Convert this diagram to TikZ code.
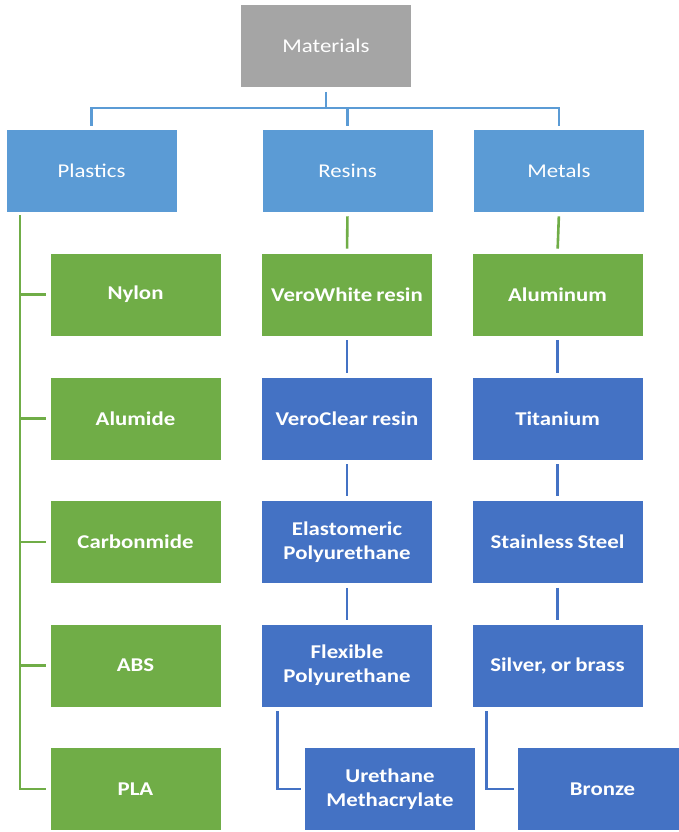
\documentclass[tikz,border=0pt]{standalone}
\usepackage{fontspec}
\setmainfont{Carlito}[FakeStretch=1.17,WordSpace=0.8]
\usetikzlibrary{calc}
\definecolor{greyfill}{HTML}{A5A5A5}
\definecolor{lightblue}{HTML}{5B9BD5}
\definecolor{leafgreen}{HTML}{70AD47}
\definecolor{darkblue}{HTML}{4472C4}
\begin{document}
\begin{tikzpicture}[x=1pt,y=-1pt,
  box/.style={rectangle, draw=white, line width=0.6pt, text=white, align=center,
    inner sep=2pt, minimum width=171pt, minimum height=83pt,
    font=\fontsize{19.5}{24}\selectfont},
  topbox/.style={box, fill=lightblue},
  rootbox/.style={box, fill=greyfill},
  greenbox/.style={box, fill=leafgreen, font=\fontsize{19.5}{24}\selectfont\bfseries},
  bluebox/.style={box, fill=darkblue, font=\fontsize{19.5}{24}\selectfont\bfseries},
  link/.style={line width=2.6pt},
  bluelink/.style={link, draw=lightblue},
  greenlink/.style={link, draw=leafgreen},
  darklink/.style={link, draw=darkblue}
]
\useasboundingbox (0,0) rectangle (678,832);
\fill[white] (0,0) rectangle (678,832);

% top levels
\node[rootbox] (materials) at (326,46) {Materials};
\node[topbox] (plastics) at (91.5,170.5) {Plastics};
\node[topbox] (resins) at (347.5,170.5) {Resins};
\node[topbox] (metals) at (559,170.5) {Metals};

% plastics column
\node[greenbox] (nylon) at (135.5,294.5) {Nylon};
\node[greenbox] (alumide) at (135.5,418.5) {Alumide};
\node[greenbox] (carbonmide) at (135.5,542) {Carbonmide};
\node[greenbox] (abs) at (135.5,665.5) {ABS};
\node[greenbox] (pla) at (135.5,789) {PLA};

% resins column
\node[greenbox] (verowhite) at (347,294.5) {VeroWhite resin};
\node[bluebox] (veroclear) at (347,418.5) {VeroClear resin};
\node[bluebox] (elasto) at (347,542) {Elastomeric\\Polyurethane};
\node[bluebox] (flexible) at (347,665.5) {Flexible\\Polyurethane};
\node[bluebox] (urethane) at (390,789) {Urethane\\Methacrylate};

% metals column
\node[greenbox] (aluminum) at (557.5,294.5) {Aluminum};
\node[bluebox] (titanium) at (557.5,418.5) {Titanium};
\node[bluebox] (steel) at (557.5,542) {Stainless Steel};
\node[bluebox] (silver) at (557.5,665.5) {Silver, or brass};
\node[bluebox] (bronze) at (602.5,789) {Bronze};

% root to categories
\coordinate (hub) at (326,108);
\draw[bluelink, shorten <=4pt] (materials.south) -- (hub);
\draw[bluelink, shorten >=3pt] (hub) -| (plastics.north);
\draw[bluelink, shorten >=3pt] (hub) -| (resins.north);
\draw[bluelink, shorten >=3pt] (hub) -| (metals.north);

% plastics spine
\coordinate (spine) at (20,215);
\foreach \leaf in {nylon,alumide,carbonmide,abs,pla}
  \draw[greenlink, shorten >=4pt] (spine) |- (\leaf.west);

% resins chain
\draw[greenlink, shorten <=4pt, shorten >=4pt] (resins.south) -- (verowhite.north);
\draw[darklink, shorten <=4pt, shorten >=4pt] (verowhite.south) -- (veroclear.north);
\draw[darklink, shorten <=4pt, shorten >=4pt] (veroclear.south) -- (elasto.north);
\draw[darklink, shorten <=4pt, shorten >=4pt] (elasto.south) -- (flexible.north);
\draw[darklink, shorten >=3pt] ($(flexible.south west)+(16,4)$) |- (urethane.west);

% metals chain
\draw[greenlink, shorten <=4pt, shorten >=4pt] (metals.south) -- (aluminum.north);
\draw[darklink, shorten <=4pt, shorten >=4pt] (aluminum.south) -- (titanium.north);
\draw[darklink, shorten <=4pt, shorten >=4pt] (titanium.south) -- (steel.north);
\draw[darklink, shorten <=4pt, shorten >=4pt] (steel.south) -- (silver.north);
\draw[darklink, shorten >=3pt] ($(silver.south west)+(15,4)$) |- (bronze.west);
\end{tikzpicture}
\end{document}
